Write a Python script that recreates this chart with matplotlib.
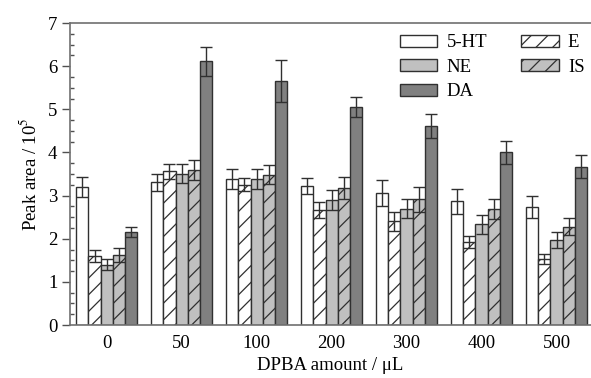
import numpy as np
import matplotlib
matplotlib.use('Agg')
import matplotlib.pyplot as plt
from matplotlib.ticker import MultipleLocator

plt.rcParams['font.family'] = ['Liberation Serif', 'DejaVu Serif']
plt.rcParams['mathtext.fontset'] = 'stix'
plt.rcParams['hatch.linewidth'] = 0.9

categories = ['0', '50', '100', '200', '300', '400', '500']
series_names = ['5-HT', 'E', 'NE', 'IS', 'DA']

ht5 = [3.19, 3.31, 3.38, 3.22, 3.05, 2.87, 2.74]
ht5_err = [0.23, 0.20, 0.23, 0.18, 0.30, 0.29, 0.26]
e = [1.60, 3.56, 3.25, 2.67, 2.40, 1.93, 1.53]
e_err = [0.13, 0.17, 0.15, 0.19, 0.21, 0.14, 0.11]
ne = [1.40, 3.51, 3.38, 2.90, 2.70, 2.33, 1.97]
ne_err = [0.12, 0.23, 0.23, 0.23, 0.23, 0.22, 0.18]
is_ = [1.62, 3.59, 3.48, 3.17, 2.91, 2.69, 2.28]
is_err = [0.17, 0.24, 0.22, 0.25, 0.29, 0.23, 0.19]
da = [2.15, 6.11, 5.66, 5.05, 4.61, 4.00, 3.67]
da_err = [0.11, 0.33, 0.48, 0.24, 0.27, 0.27, 0.27]

values = [ht5, e, ne, is_, da]
errors = [ht5_err, e_err, ne_err, is_err, da_err]
fills = ['white', 'white', '#c0c0c0', '#c0c0c0', '#808080']
hatches = ['', '//', '', '//', '']

fig = plt.figure(figsize=(5.91, 3.78), dpi=100)
ax = fig.add_axes([70 / 591, 53 / 378, 521 / 591, 302 / 378])

x = np.arange(len(categories))
width = 0.163
bars = {}
for i, name in enumerate(series_names):
    pos = x + (i - 2) * width
    b = ax.bar(pos, values[i], width, color=fills[i], edgecolor='#303030',
               linewidth=1.0, hatch=hatches[i], label=name, zorder=2)
    ax.errorbar(pos, values[i], yerr=errors[i], fmt='none', ecolor='#303030',
                elinewidth=1.0, capsize=4.3, capthick=1.0, zorder=3)
    bars[name] = b

ax.set_xlim(-0.49, 6.46)
ax.set_ylim(0, 7)
ax.set_xticks(x)
ax.set_xticklabels(categories)
ax.yaxis.set_major_locator(MultipleLocator(1))
ax.yaxis.set_minor_locator(MultipleLocator(0.25))
ax.tick_params(axis='x', length=0, pad=7, labelsize=13.5)
ax.tick_params(axis='y', which='major', direction='out', length=6,
               width=1, color='#505050', labelsize=13.5, pad=3)
ax.tick_params(axis='y', which='minor', direction='in', length=3,
               width=1, color='#505050')

ax.spines['right'].set_visible(False)
for s in ['top', 'bottom', 'left']:
    ax.spines[s].set_color('#707070')
    ax.spines[s].set_linewidth(1.2)

ax.set_ylabel('Peak area / 10$^5$', fontsize=13.5, labelpad=6)
ax.set_xlabel('DPBA amount / \u03bcL', fontsize=13.5, labelpad=4)

order = ['5-HT', 'NE', 'DA', 'E', 'IS']
ax.legend([bars[n] for n in order], order, ncol=2, loc='upper left',
          bbox_to_anchor=(0.633, 0.962), frameon=False, fontsize=13.5,
          handlelength=2.0, handleheight=0.6, handletextpad=0.5,
          labelspacing=0.4, columnspacing=1.8, borderpad=0, borderaxespad=0)

fig.savefig('out.png', dpi=100)
